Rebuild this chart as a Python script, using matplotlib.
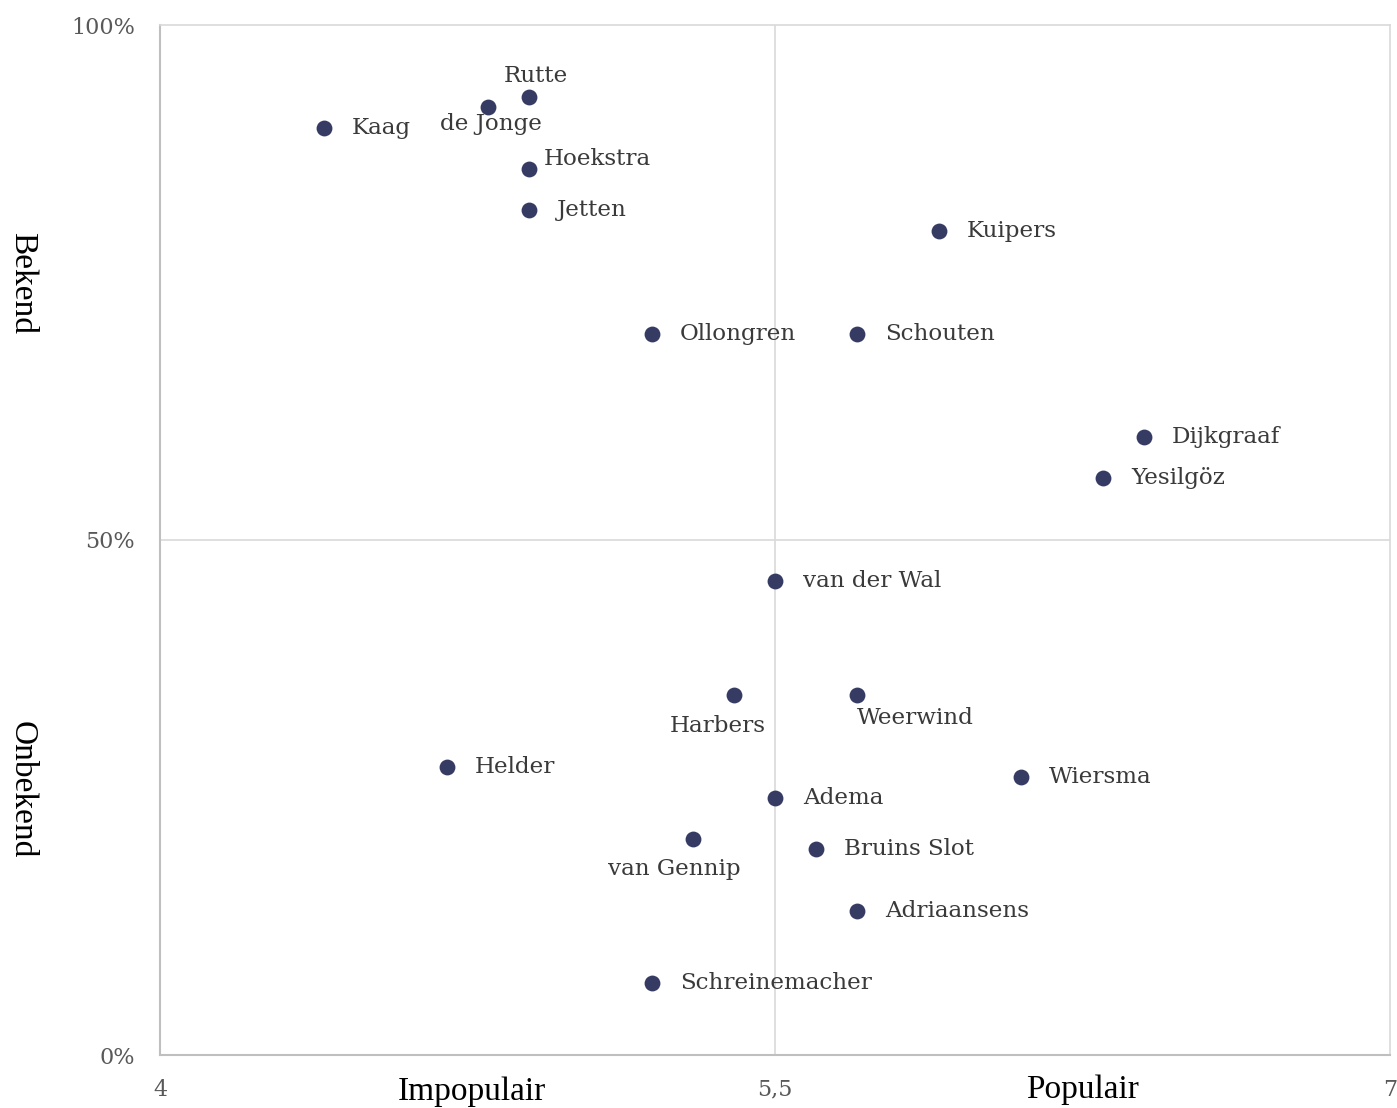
import matplotlib
matplotlib.use("Agg")
import matplotlib.pyplot as plt
from matplotlib.ticker import FixedLocator, FixedFormatter

# populariteit (4-7) en bekendheid (%)
names = ["Rutte", "de Jonge", "Kaag", "Hoekstra", "Jetten", "Kuipers",
         "Ollongren", "Schouten", "Dijkgraaf", "Yesilgöz", "van der Wal",
         "Harbers", "Weerwind", "Helder", "Wiersma", "Adema", "van Gennip",
         "Bruins Slot", "Adriaansens", "Schreinemacher"]
popular = [4.9, 4.8, 4.4, 4.9, 4.9, 5.9,
           5.2, 5.7, 6.4, 6.3, 5.5,
           5.4, 5.7, 4.7, 6.1, 5.5, 5.3,
           5.6, 5.7, 5.2]
known = [93, 92, 90, 86, 82, 80,
         70, 70, 60, 56, 46,
         35, 35, 28, 27, 25, 21,
         20, 14, 7]

# label offsets in pixels (dx, dy, ha), default: right of the point
special = {
    "Rutte": (7, 21, "center"),
    "de Jonge": (3, -17, "center"),
    "Hoekstra": (15, 10, "left"),
    "Harbers": (-16, -31, "center"),
    "Weerwind": (0, -23, "left"),
    "van Gennip": (-19, -30, "center"),
}

fig = plt.figure(figsize=(13.97, 11.08), dpi=100)
ax = fig.add_axes([160 / 1397, 1 - 1055 / 1108, 1230 / 1397, 1030 / 1108])

ax.set_xlim(4, 7)
ax.set_ylim(0, 100)
ax.axvline(5.5, color="#d9d9d9", lw=1.2, zorder=0)
ax.axhline(50, color="#d9d9d9", lw=1.2, zorder=0)

ax.scatter(popular, known, s=130, color="#363b63", zorder=3, linewidths=0)

px = 0.72
for n, x, y in zip(names, popular, known):
    dx, dy, ha = special.get(n, (28, 0, "left"))
    ax.annotate(n, (x, y), xytext=(dx * px, dy * px), textcoords="offset points",
                ha=ha, va="center", fontsize=16.6, family="DejaVu Serif",
                color="#3a3a3a")

for s in ["left", "bottom"]:
    ax.spines[s].set_color("#bfbfbf")
    ax.spines[s].set_linewidth(1.5)
for s in ["top", "right"]:
    ax.spines[s].set_color("#d9d9d9")
    ax.spines[s].set_linewidth(1.2)

ax.xaxis.set_major_locator(FixedLocator([4, 5.5, 7]))
ax.xaxis.set_major_formatter(FixedFormatter(["4", "5,5", "7"]))
ax.yaxis.set_major_locator(FixedLocator([0, 50, 100]))
ax.yaxis.set_major_formatter(FixedFormatter(["0%", "50%", "100%"]))
ax.tick_params(length=0, labelsize=16, labelcolor="#595959")
ax.tick_params(axis="x", pad=17)
ax.tick_params(axis="y", pad=18)
for lbl in ax.get_xticklabels() + ax.get_yticklabels():
    lbl.set_family("DejaVu Serif")

fs = 24
fig.text(472 / 1397, 1 - 1092 / 1108, "Impopulair", ha="center", va="center",
         fontsize=fs, family="Liberation Serif")
fig.text(1083 / 1397, 1 - 1090 / 1108, "Populair", ha="center", va="center",
         fontsize=fs, family="Liberation Serif")
fig.text(22 / 1397, 1 - 283 / 1108, "Bekend", ha="center", va="center",
         rotation=-90, fontsize=fs, family="Liberation Serif")
fig.text(22 / 1397, 1 - 790 / 1108, "Onbekend", ha="center", va="center",
         rotation=-90, fontsize=fs, family="Liberation Serif")

fig.savefig("out.png", dpi=100)
